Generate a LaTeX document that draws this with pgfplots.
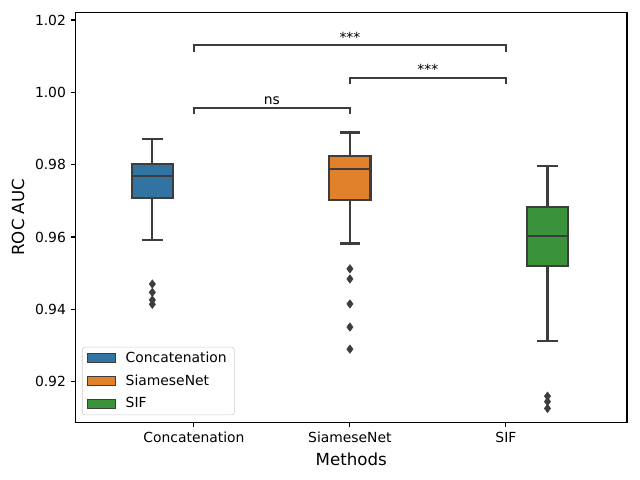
\documentclass[border=0pt]{standalone}
\usepackage{pgfplots}
\pgfplotsset{compat=1.18}
\usepackage{fontspec}
\setmainfont{DejaVu Sans}
\definecolor{c1}{HTML}{3274A1}
\definecolor{c2}{HTML}{E1812C}
\definecolor{c3}{HTML}{3A923A}
\definecolor{dk}{HTML}{3D3D3D}
\definecolor{lg}{HTML}{CCCCCC}
\pgfplotsset{
  bx/.style={draw=dk, line width=1.5pt, mark=none, forget plot, line join=miter},
  ln/.style={dk, line width=1.5pt, mark=none, forget plot},
  fl/.style={only marks, mark=diamond*, mark size=3pt, forget plot,
    mark options={fill=dk, draw=dk, line width=0.4pt}},
}
\begin{document}
\begin{tikzpicture}
\begin{axis}[
  scale only axis,
  width=396.9pt, height=295.4pt,
  xmin=-0.758, xmax=2.776,
  ymin=0.90875, ymax=1.0222,
  xtick={0,1,2},
  xticklabels={Concatenation,SiameseNet,SIF},
  ytick={0.92,0.94,0.96,0.98,1.00,1.02},
  yticklabel style={/pgf/number format/.cd, fixed, fixed zerofill, precision=2, assume math mode=true},
  tick label style={font=\fontsize{10}{12}\selectfont, black},
  tick align=outside,
  major tick length=3.5pt,
  every tick/.style={black, line width=0.8pt},
  axis line style={line width=0.8pt},
  xtick pos=bottom, ytick pos=left,
  ylabel={ROC AUC}, xlabel={Methods},
  label style={font=\fontsize{12}{14}\selectfont},
  ylabel style={at={(axis description cs:-0.1047,0.5)}, anchor=center},
  xlabel style={at={(axis description cs:0.5,-0.0894)}, anchor=center},
  legend style={at={(rel axis cs:0.0114,0.0178)}, anchor=south west, draw=lg, rounded corners=2pt, fill=white, font=\fontsize{10}{12}\selectfont, inner xsep=3.5pt, inner ysep=1.4pt, row sep=3.4pt},
  legend cell align=left,
  legend image code/.code={\draw[sharp corners, #1] (0pt,-3.2pt) rectangle (20pt,3.2pt); \path (0pt,0pt) (25pt,0pt);},
]
\addlegendimage{fill=c1, draw=dk, line width=0.8pt}
\addlegendentry{Concatenation}
\addlegendimage{fill=c2, draw=dk, line width=0.8pt}
\addlegendentry{SiameseNet}
\addlegendimage{fill=c3, draw=dk, line width=0.8pt}
\addlegendentry{SIF}

% ---- Concatenation (x=-0.2667): lw 0.9593, q1 0.9709, med 0.9768, q3 0.9802, uw 0.9872
\addplot[ln] coordinates {(-0.2667,0.9709) (-0.2667,0.9593)};
\addplot[ln] coordinates {(-0.2667,0.9802) (-0.2667,0.9872)};
\addplot[ln] coordinates {(-0.3333,0.9593) (-0.2,0.9593)};
\addplot[ln] coordinates {(-0.3333,0.9872) (-0.2,0.9872)};
\addplot[bx, fill=c1] coordinates {(-0.3984,0.9709) (-0.135,0.9709) (-0.135,0.9802) (-0.3984,0.9802)} -- cycle;
\addplot[ln] coordinates {(-0.3984,0.9768) (-0.135,0.9768)};
\addplot[fl] coordinates {(-0.2667,0.9470) (-0.2667,0.9447) (-0.2667,0.9426) (-0.2667,0.9414)};

% ---- SiameseNet (x=1): lw 0.9582, q1 0.9703, med 0.9787, q3 0.9823, uw 0.9889
\addplot[ln] coordinates {(1,0.9703) (1,0.9582)};
\addplot[ln] coordinates {(1,0.9823) (1,0.9889)};
\addplot[ln] coordinates {(0.9333,0.9582) (1.0667,0.9582)};
\addplot[ln] coordinates {(0.9333,0.9889) (1.0667,0.9889)};
\addplot[bx, fill=c2] coordinates {(0.8683,0.9703) (1.1317,0.9703) (1.1317,0.9823) (0.8683,0.9823)} -- cycle;
\addplot[ln] coordinates {(0.8683,0.9787) (1.1317,0.9787)};
\addplot[fl] coordinates {(1,0.9512) (1,0.9484) (1,0.9415) (1,0.9351) (1,0.9290)};

% ---- SIF (x=2.2667): lw 0.9313, q1 0.9520, med 0.9604, q3 0.9682, uw 0.9796
\addplot[ln] coordinates {(2.2667,0.9520) (2.2667,0.9313)};
\addplot[ln] coordinates {(2.2667,0.9682) (2.2667,0.9796)};
\addplot[ln] coordinates {(2.2,0.9313) (2.3333,0.9313)};
\addplot[ln] coordinates {(2.2,0.9796) (2.3333,0.9796)};
\addplot[bx, fill=c3] coordinates {(2.135,0.9520) (2.3984,0.9520) (2.3984,0.9682) (2.135,0.9682)} -- cycle;
\addplot[ln] coordinates {(2.135,0.9604) (2.3984,0.9604)};
\addplot[fl] coordinates {(2.2667,0.9160) (2.2667,0.9145) (2.2667,0.9126)};

% significance brackets
\addplot[ln] coordinates {(0,0.9939) (0,0.99555) (1,0.99555) (1,0.9939)};
\addplot[ln] coordinates {(1,1.0024) (1,1.0040) (2,1.0040) (2,1.0024)};
\addplot[ln] coordinates {(0,1.0112) (0,1.0131) (2,1.0131) (2,1.0112)};
\node[anchor=base, inner sep=0pt, font=\fontsize{10}{12}\selectfont] at (axis cs:0.5,0.99665) {ns};
\node[anchor=base, inner sep=0pt, font=\fontsize{10}{12}\selectfont] at (axis cs:1.5,1.0050) {***};
\node[anchor=base, inner sep=0pt, font=\fontsize{10}{12}\selectfont] at (axis cs:1,1.01375) {***};
\end{axis}
\path (current axis.south west) ++(-54.5pt,-41.5pt) rectangle ++(460.8pt,345.6pt);
\end{tikzpicture}
\end{document}
